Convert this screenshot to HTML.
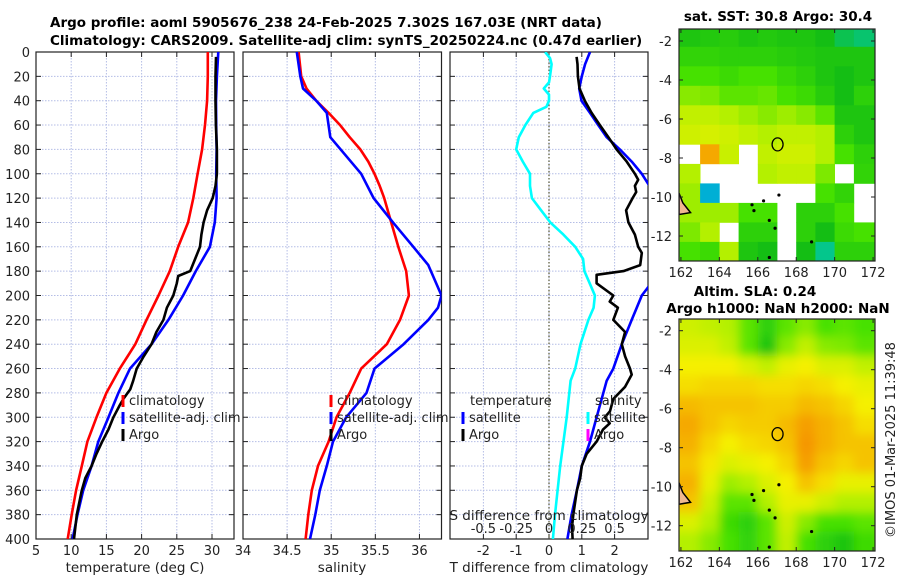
<!DOCTYPE html>
<html><head><meta charset="utf-8"><style>
html,body{margin:0;padding:0;background:#fff;}
svg{display:block;font-family:"DejaVu Sans","Liberation Sans",sans-serif;}
</style></head><body>
<svg id="fig" width="900" height="580" viewBox="0 0 900 580" xmlns="http://www.w3.org/2000/svg">
<defs>
<clipPath id="cp1"><rect x="36" y="52" width="198" height="487"/></clipPath>
<clipPath id="cp2"><rect x="243" y="52" width="198.5" height="487"/></clipPath>
<clipPath id="cp3"><rect x="450" y="52" width="198" height="487"/></clipPath>
<clipPath id="cpm1"><rect x="679" y="29" width="196" height="232"/></clipPath>
<clipPath id="cpm2"><rect x="679" y="319" width="196" height="232"/></clipPath>
<filter id="blur" x="-10%" y="-10%" width="120%" height="120%"><feGaussianBlur stdDeviation="5"/></filter>
</defs>
<g font-weight="bold" font-size="13.5" fill="#000">
<text x="50" y="27">Argo profile: aoml 5905676_238 24-Feb-2025 7.302S 167.03E (NRT data)</text>
<text x="50" y="45">Climatology: CARS2009. Satellite-adj clim: synTS_20250224.nc (0.47d earlier)</text>
<text x="778" y="21" text-anchor="middle">sat. SST: 30.8 Argo: 30.4</text>
<text x="755" y="296" text-anchor="middle">Altim. SLA: 0.24</text>
<text x="778" y="313" text-anchor="middle">Argo h1000: NaN h2000: NaN</text>
</g>
<text transform="translate(895,440) rotate(-90)" text-anchor="middle" font-size="13" fill="#222">©IMOS 01-Mar-2025 11:39:48</text>
<g id="root"></g>
</svg>
<script>
// ---- temperature panel data ----
const climTDepth = [0,10,20,40,60,80,100,120,140,160,180,200,220,240,260,280,300,320,340,360,380,400];
const climT = [29.4,29.4,29.4,29.3,29.0,28.6,27.95,27.35,26.6,25.2,24.0,22.4,20.7,19.1,16.9,15.0,13.6,12.3,11.5,10.7,10.07,9.5];
const satT = [30.9,30.8,30.7,30.57,30.6,30.66,30.6,30.66,30.4,29.7,27.7,25.9,23.8,21.4,18.35,16.7,15.3,13.85,12.9,11.7,10.9,10.2];
const argoTDepth = [4,20,40,60,80,100,110,120,130,140,150,160,170,180,184,190,200,210,220,230,240,250,260,270,277,285,290,300,310,320,330,340,350,360,380,400];
const argoT = [30.57,30.5,30.5,30.55,30.7,30.7,30.5,30.1,29.3,28.8,28.5,28.3,27.6,26.9,25.2,25.0,24.5,23.6,23.1,22.1,21.4,20.3,19.3,18.8,18.4,17.4,16.9,16.0,15.3,14.4,13.6,12.9,12.0,11.5,10.8,10.4];
// ---- salinity panel data ----
const climSDepth = [0,20,30,40,50,60,70,80,90,100,110,120,140,160,180,200,220,240,260,280,300,320,340,360,380,400];
const climS = [34.63,34.66,34.72,34.83,34.97,35.10,35.21,35.33,35.42,35.49,35.55,35.60,35.68,35.76,35.85,35.88,35.78,35.63,35.34,35.21,35.06,34.97,34.85,34.78,34.74,34.71];
const satSDepth = [0,20,30,40,50,70,100,120,140,160,175,200,210,220,240,260,280,300,320,340,360,380,400];
const satS = [34.61,34.65,34.68,34.83,34.95,34.99,35.34,35.48,35.70,35.93,36.10,36.25,36.21,36.10,35.82,35.49,35.40,35.17,35.02,34.95,34.87,34.82,34.76];
// ---- difference panel data ----
const dSDepth = [0,5,10,20,25,30,35,40,45,50,60,70,80,90,100,110,120,130,140,150,160,170,180,190,200,210,220,240,260,270,300,340,380,400];
const dSsat = [-0.03,0.008,0.02,0.008,0.0,-0.04,0.0,0.0,-0.02,-0.12,-0.18,-0.23,-0.25,-0.2,-0.145,-0.145,-0.13,-0.06,0.01,0.11,0.2,0.26,0.27,0.31,0.35,0.34,0.3,0.24,0.2,0.165,0.135,0.085,0.046,0.03];
const dTsatDepth = [0,10,20,30,40,50,60,70,80,90,100,120,140,160,180,200,220,240,260,270,300,320,340,360,380,400];
const dTsat = [1.25,1.1,1.0,0.92,0.99,1.25,1.5,1.76,2.16,2.52,2.83,3.3,3.8,4.5,3.4,2.83,2.52,2.22,1.96,1.76,1.45,1.25,1.0,0.85,0.69,0.56];
const dTargoDepth = [4,10,20,30,40,50,60,70,80,90,100,105,110,115,120,130,140,150,160,165,175,180,183,190,200,205,210,220,230,240,250,260,265,275,285,295,300,305,310,320,330,340,350,360,380,390,400];
const dTargo = [0.84,0.87,0.88,0.93,1.09,1.3,1.55,1.81,2.06,2.37,2.62,2.72,2.62,2.66,2.55,2.35,2.42,2.62,2.72,2.83,2.78,2.27,1.45,1.45,1.96,1.85,2.1,1.96,2.32,2.22,2.32,2.47,2.52,2.32,1.96,1.86,1.7,1.85,1.65,1.45,1.15,1.0,0.95,0.85,0.74,0.7,0.72];
// ---- tick labels ----
const depthTicks = [0,20,40,60,80,100,120,140,160,180,200,220,240,260,280,300,320,340,360,380,400];
const tTicks = [5,10,15,20,25,30];
const sTicks = [34,34.5,35,35.5,36];
const dTTicks = [-2,-1,0,1,2];
const dSTicks = [-0.5,-0.25,0,0.25,0.5];
const dSTickLabels = ["-0.5","-0.25","0","0.25","0.5"];
// ---- maps (1 degree cells, rows from north) ----
const mapLons = [162,163,164,165,166,167,168,169,170,171];
const mapLats = [-1.3,-2.3,-3.3,-4.3,-5.3,-6.3,-7.3,-8.3,-9.3,-10.3,-11.3,-12.3];
const sstGrid = [
[0.52,0.53,0.54,0.52,0.53,0.52,0.52,0.5,0.46,0.44],
[0.56,0.56,0.55,0.55,0.55,0.54,0.53,0.52,0.52,0.52],
[0.6,0.6,0.58,0.6,0.6,0.57,0.55,0.52,0.5,0.52],
[0.66,0.65,0.62,0.62,0.63,0.6,0.58,0.54,0.5,0.55],
[0.72,0.72,0.7,0.68,0.66,0.68,0.66,0.62,0.52,0.52],
[0.74,0.75,0.74,0.72,0.7,0.72,0.72,0.7,0.55,0.52],
[null,0.88,0.73,null,0.72,0.74,0.74,0.7,0.6,0.55],
[0.7,null,null,null,0.7,0.72,0.72,0.65,null,0.56],
[0.68,0.35,null,null,null,null,null,0.6,0.56,null],
[0.68,0.68,0.68,0.6,0.6,null,0.55,0.55,0.6,null],
[0.65,0.7,null,0.55,0.55,null,0.55,0.5,0.58,0.6],
[0.6,0.58,0.7,0.52,0.5,null,0.5,0.42,0.55,0.55]];
const slaGrid = [
[0.74,0.72,0.7,0.62,0.55,0.62,0.66,0.6,0.62,0.6],
[0.76,0.76,0.72,0.62,0.52,0.66,0.72,0.66,0.65,0.62],
[0.8,0.8,0.8,0.76,0.72,0.78,0.8,0.76,0.76,0.72],
[0.82,0.83,0.83,0.83,0.82,0.82,0.83,0.82,0.8,0.78],
[0.86,0.85,0.85,0.85,0.84,0.84,0.86,0.85,0.83,0.8],
[0.88,0.85,0.83,0.84,0.84,0.86,0.89,0.87,0.85,0.82],
[0.87,0.83,0.8,0.82,0.83,0.85,0.9,0.87,0.85,0.85],
[0.85,0.81,0.76,0.78,0.8,0.83,0.89,0.85,0.83,0.85],
[0.87,0.78,0.68,0.7,0.76,0.8,0.85,0.82,0.78,0.78],
[0.85,0.74,0.62,0.62,0.7,0.78,0.78,0.74,0.7,0.7],
[0.76,0.7,0.58,0.55,0.62,0.74,0.66,0.6,0.6,0.62],
[0.7,0.66,0.6,0.56,0.62,0.72,0.6,0.55,0.52,0.58]];
const mapLatTicks = [-2,-4,-6,-8,-10,-12];
const mapLonTicks = [162,164,166,168,170,172];
const argoLon = 167.03, argoLat = -7.302;

const NS = "http://www.w3.org/2000/svg";
const root = document.getElementById('root');
function mk(tag, attrs, parent){ const e=document.createElementNS(NS,tag); for(const k in attrs) e.setAttribute(k,attrs[k]); (parent||root).appendChild(e); return e; }
const Y0=52, Y1=539;
function yD(d){ return Y0 + d*(Y1-Y0)/400; }
function lin(a,b,p,q){ return v => p + (v-a)*(q-p)/(b-a); }

function panel(name,x0,x1,xs,ticks,labels,clip){
  const g=mk('g',{});
  
  
  ticks.forEach(t=>{ const x=xs(t); if(x>x0+0.5&&x<x1-0.5){ const l=mk('line',{x1:x,x2:x,y1:Y0,y2:Y1,stroke:'#b4bde6','stroke-width':1,'stroke-dasharray':'1.5,1.5'},g);   } });
  depthTicks.forEach(d=>{ const y=yD(d); if(d>0&&d<400){ const l=mk('line',{x1:x0,x2:x1,y1:y,y2:y,stroke:'#b4bde6','stroke-width':1,'stroke-dasharray':'1.5,1.5'},g);   }
    mk('line',{x1:x0,x2:x0+5,y1:y,y2:y,stroke:'#222'},g); mk('line',{x1:x1-5,x2:x1,y1:y,y2:y,stroke:'#222'},g); });
  ticks.forEach((t,i)=>{ const x=xs(t); mk('line',{x1:x,x2:x,y1:Y1-5,y2:Y1,stroke:'#222'},g); mk('line',{x1:x,x2:x,y1:Y0,y2:Y0+5,stroke:'#222'},g);
    if(labels){ const tx=mk('text',{x:x,y:Y1+16,'text-anchor':'middle','font-size':13,fill:'#222'},g); tx.textContent=labels[i];   } });
  const f=mk('rect',{x:x0,y:Y0,width:x1-x0,height:Y1-Y0,fill:'none',stroke:'#222','stroke-width':1.2},g);
   
  return g;
}
function line(g,depths,vals,xs,color,name,clip){
  const pts=depths.map((d,i)=>xs(vals[i]).toFixed(1)+','+yD(d).toFixed(1)).join(' ');
  const p=mk('polyline',{points:pts,fill:'none',stroke:color,'stroke-width':2.6,'stroke-linejoin':'round','clip-path':'url(#'+clip+')'},g);
  
  
}
function txt(g,x,y,s,name,extra){ const t=mk('text',Object.assign({x:x,y:y,'font-size':13,fill:'#222'},extra||{}),g); t.textContent=s;   return t; }
function legItem(g,x,y,color,label,name){ mk('rect',{x:x-1.5,y:y-10,width:3,height:12,fill:color},g); const t=txt(g,x+6,y,label,name); }

// Panel 1: temperature
const xT=lin(5,33.125,36,234);
const g1=panel('temperature-panel',36,234,xT,tTicks,tTicks.map(String),'cp1');
depthTicks.forEach(d=>{ const t=txt(g1,30,yD(d)+5,String(d),'y-tick-label',{'text-anchor':'end'}); });
line(g1,climTDepth,climT,xT,'#ff0000','temp-climatology-line','cp1');
line(g1,climTDepth,satT,xT,'#0000ff','temp-satellite-line','cp1');
line(g1,argoTDepth,argoT,xT,'#000000','temp-argo-line','cp1');
txt(g1,135,572,'temperature (deg C)','x-axis-title',{'text-anchor':'middle','font-size':13.5});
legItem(g1,123,405,'#ff0000','climatology','legend-climatology');
legItem(g1,123,422,'#0000ff','satellite-adj. clim','legend-satellite');
legItem(g1,123,439,'#000000','Argo','legend-argo');

// Panel 2: salinity
const xS=lin(34,36.25,243,441.5);
const g2=panel('salinity-panel',243,441.5,xS,sTicks,sTicks.map(String),'cp2');
line(g2,climSDepth,climS,xS,'#ff0000','sal-climatology-line','cp2');
line(g2,satSDepth,satS,xS,'#0000ff','sal-satellite-line','cp2');
txt(g2,342,572,'salinity','x-axis-title',{'text-anchor':'middle','font-size':13.5});
legItem(g2,331,405,'#ff0000','climatology','legend-climatology');
legItem(g2,331,422,'#0000ff','satellite-adj. clim','legend-satellite');
legItem(g2,331,439,'#000000','Argo','legend-argo');

// Panel 3: differences
const xdT=lin(0,1,549,581.8);
const xdS=v=>xdT(v*4);
const g3=panel('difference-panel',450,648,xdT,dTTicks,dTTicks.map(String),'cp3');
mk('line',{x1:xdT(0),x2:xdT(0),y1:Y0,y2:Y1,stroke:'#555533','stroke-width':1.2,'stroke-dasharray':'1.5,2'},g3);
line(g3,dSDepth,dSsat,xdS,'#00ffff','sal-diff-satellite-line','cp3');
line(g3,dTsatDepth,dTsat,xdT,'#0000ff','temp-diff-satellite-line','cp3');
line(g3,dTargoDepth,dTargo,xdT,'#000000','temp-diff-argo-line','cp3');
dSTicks.forEach((s,i)=>{ txt(g3,xdS(s),533,dSTickLabels[i],'s-tick-label',{'text-anchor':'middle'}); });
txt(g3,549,520,'S difference from climatology','s-axis-title',{'text-anchor':'middle','font-size':13.5});
txt(g3,549,572,'T difference from climatology','x-axis-title',{'text-anchor':'middle','font-size':13.5});
txt(g3,470,405,'temperature','legend-temperature-header');
legItem(g3,463,422,'#0000ff','satellite','legend-temp-satellite');
legItem(g3,463,439,'#000000','Argo','legend-temp-argo');
txt(g3,595,405,'salinity','legend-salinity-header');
legItem(g3,588,422,'#00ffff','satellite','legend-sal-satellite');
legItem(g3,588,439,'#ff00ff','Argo','legend-sal-argo');

// Maps
const stops=[[0.3,[0,150,255]],[0.4,[0,200,170]],[0.5,[20,190,20]],[0.6,[70,225,0]],[0.7,[180,240,0]],[0.8,[245,240,0]],[0.9,[245,150,0]],[1,[230,40,0]]];
function cmap(v){ if(v<=stops[0][0]) return 'rgb('+stops[0][1]+')'; for(let i=1;i<stops.length;i++){ if(v<=stops[i][0]){ const a=stops[i-1],b=stops[i],f=(v-a[0])/(b[0]-a[0]); const c=a[1].map((x,j)=>Math.round(x+(b[1][j]-x)*f)); return 'rgb('+c.join(',')+')'; } } return 'rgb('+stops[stops.length-1][1]+')'; }
function map(name,top,grid,clip,blur){
  const g=mk('g',{});
  
  
  const xL=lin(161.9,172.1,679,875);
  const yL=lin(-2,-12,top,top+195);
  const cells=mk('g',{'clip-path':'url(#'+clip+')'},g);
  const inner=mk('g',blur?{filter:'url(#blur)'}:{},cells);
  if(blur) mk('rect',{x:660,y:(top===41?10:300),width:240,height:270,fill:cmap(0.8)},inner);
  grid.forEach((row,r)=>row.forEach((v,c)=>{
    if(v===null) return;
    const lat0=mapLats[r], lon0=mapLons[c];
    const x0=xL(c===0?161.5:lon0), x1=xL(c===row.length-1?172.5:lon0+1);
    const y0=yL(r===0?lat0+1:lat0), y1=yL(r===grid.length-1?lat0-2:lat0-1);
    const rc=mk('rect',{x:x0.toFixed(1),y:y0.toFixed(1),width:(x1-x0+0.4).toFixed(1),height:(y1-y0+0.4).toFixed(1),fill:cmap(v)},inner);
    
    
  }));
  mk('path',{d:`M${xL(161.9)},${yL(-9.8)} L${xL(162.1)},${yL(-10.3)} L${xL(162.5)},${yL(-10.8)} L${xL(161.9)},${yL(-10.9)} Z`,fill:'#f0b890',stroke:'#000','stroke-width':1.5},cells);
  [[165.8,-10.7],[166.6,-11.2],[166.9,-11.6],[167.1,-9.9],[166.3,-10.2],[168.8,-12.3],[166.6,-13.1],[165.7,-10.4]].forEach(p=>{ mk('circle',{cx:xL(p[0]),cy:yL(p[1]),r:1.6,fill:'#000'},cells); });
  const m=mk('ellipse',{cx:xL(argoLon),cy:yL(argoLat),rx:5.5,ry:6.5,fill:'none',stroke:'#000','stroke-width':1.3},g);
   
  const y0=top===41?29:319, y1=y0+232;
  mk('rect',{x:679,y:y0,width:196,height:232,fill:'none',stroke:'#222','stroke-width':1.2},g);
  mapLatTicks.forEach(l=>{ const y=yL(l); mk('line',{x1:679,x2:683,y1:y,y2:y,stroke:'#222'},g); mk('line',{x1:871,x2:875,y1:y,y2:y,stroke:'#222'},g); txt(g,672,y+5,String(l),'lat-tick-label',{'text-anchor':'end'}); });
  mapLonTicks.forEach(l=>{ const x=xL(l); mk('line',{x1:x,x2:x,y1:y1-4,y2:y1,stroke:'#222'},g); mk('line',{x1:x,x2:x,y1:y0,y2:y0+4,stroke:'#222'},g); txt(g,x,y1+16,String(l),'lon-tick-label',{'text-anchor':'middle'}); });
}
map('sst-map',41,sstGrid,'cpm1',false);
map('sla-map',330.7,slaGrid,'cpm2',true);
</script>
</body></html>
